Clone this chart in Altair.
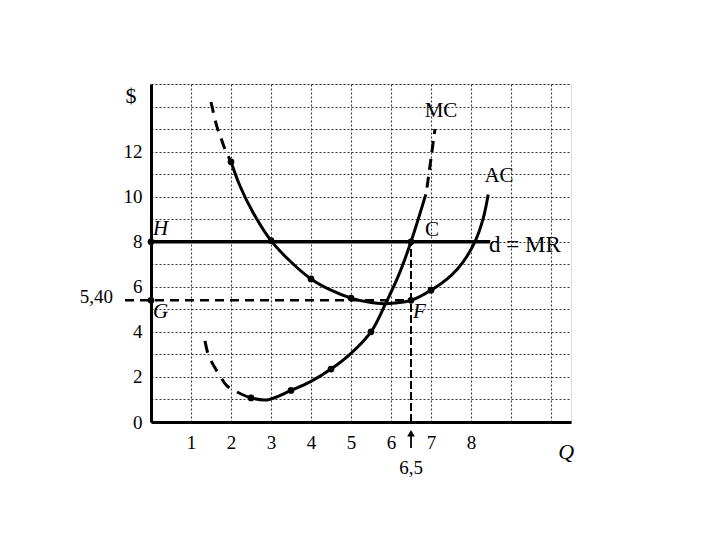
import altair as alt
import pandas as pd
import numpy as np

# ---- data ----
x_ticks = [1, 2, 3, 4, 5, 6, 7, 8]
y_ticks = [0, 2, 4, 6, 8, 10, 12]

ac_dash_q = [1.5, 1.65, 1.75, 1.85, 2.0]
ac_dash_v = [14.2, 13.1, 12.6, 12.1, 11.55]
ac_q = [2.0, 2.23, 2.55, 3.0, 3.5, 4.0, 4.5, 5.0, 5.5, 5.8, 6.1, 6.5, 7.0, 7.5, 7.8, 8.1, 8.3, 8.43]
ac_v = [11.55, 10.45, 9.3, 8.05, 7.1, 6.35, 5.85, 5.5, 5.3, 5.25, 5.28, 5.4, 5.85, 6.5, 7.1, 8.0, 9.0, 10.1]

mc_dash_low_q = [1.35, 1.43, 1.58, 1.73, 1.9, 2.1]
mc_dash_low_v = [3.6, 3.0, 2.46, 2.03, 1.6, 1.38]
mc_q = [2.15, 2.5, 2.9, 3.5, 4.0, 4.5, 5.0, 5.5, 5.85, 6.2, 6.5, 6.87]
mc_v = [1.33, 1.07, 0.98, 1.4, 1.8, 2.35, 3.05, 4.0, 5.2, 6.55, 8.0, 10.1]
mc_dash_top_q = [6.9, 7.0, 7.1]
mc_dash_top_v = [10.4, 11.7, 13.0]

ac_dot_q = [2.0, 3.0, 4.0, 5.0, 7.0]
ac_dot_v = [11.55, 8.05, 6.35, 5.5, 5.85]
mc_dot_q = [2.5, 3.5, 4.5, 5.5]
mc_dot_v = [1.07, 1.4, 2.35, 4.0]

price = 8.0          # d = MR
q_star = 6.5
ac_star = 5.40
mr_end_q = 8.48

# named points: H, G, C, F
pt_names = ["H", "G", "C", "F"]
pt_q = [0.0, 0.0, q_star, q_star]
pt_v = [price, ac_star, price, ac_star]

FONT = "Liberation Serif"

def df(q, v):
    return pd.DataFrame({"q": q, "v": v})

xs = alt.Scale(domain=[0, 10.5], nice=False, zero=False)
ys = alt.Scale(domain=[0, 15], nice=False, zero=False)

x_grid_vals = [float(a) for a in np.arange(0, 10.51, 0.5)]
y_grid_vals = [float(a) for a in np.arange(0, 15.01, 1.0)]

x_axis = alt.Axis(values=x_grid_vals, title=None, grid=True, ticks=False, format="d",
                  labelExpr="indexof(%s, datum.value) >= 0 ? datum.label : ''" % str(x_ticks),
                  labelFont=FONT, labelFontSize=19, labelColor="black", labelPadding=11,
                  domainColor="black", domainWidth=3, gridColor="#333", gridDash=[2, 2],
                  gridWidth=1.1, labelFlush=False, labelOverlap=False)
y_axis = alt.Axis(values=y_grid_vals, title=None, grid=True, ticks=False, format="d",
                  labelExpr="indexof(%s, datum.value) >= 0 ? datum.label : ''" % str(y_ticks),
                  labelFont=FONT, labelFontSize=19, labelColor="black", labelPadding=9,
                  domainColor="black", domainWidth=3, gridColor="#333", gridDash=[2, 2],
                  gridWidth=1.1, labelFlush=False, labelOverlap=False)

Xn = alt.X("q:Q", scale=xs, axis=x_axis)
Yn = alt.Y("v:Q", scale=ys, axis=y_axis)

def line(q, v, dash=None, w=3):
    kw = dict(color="black", strokeWidth=w, interpolate="catmull-rom")
    if dash:
        kw["strokeDash"] = dash
    return alt.Chart(df(q, v)).mark_line(**kw).encode(x=Xn, y=Yn)

ac_dash = line(ac_dash_q, ac_dash_v, [11, 8])
ac_line = line(ac_q, ac_v)
mc_low = line(mc_dash_low_q, mc_dash_low_v, [12, 9])
mc_line = line(mc_q, mc_v)
mc_top = line(mc_dash_top_q, mc_dash_top_v, [11, 7])

mr = alt.Chart(pd.DataFrame({"q": [0.0], "q2": [mr_end_q], "v": [price]})).mark_rule(
    color="black", strokeWidth=3.5).encode(x=Xn, x2="q2:Q", y=Yn)

g_line = alt.Chart(pd.DataFrame({"q": [-0.65], "q2": [q_star], "v": [ac_star]})).mark_rule(
    color="black", strokeWidth=2.5, strokeDash=[9, 6]).encode(x=Xn, x2="q2:Q", y=Yn)

v_line = alt.Chart(pd.DataFrame({"q": [q_star], "v": [0.0], "v2": [price]})).mark_rule(
    color="black", strokeWidth=2, strokeDash=[8, 3]).encode(x=Xn, y=Yn, y2="v2:Q")

arrow_shaft = alt.Chart(pd.DataFrame({"q": [q_star], "v": [-1.15], "v2": [-0.45]})).mark_rule(
    color="black", strokeWidth=1.8).encode(x=Xn, y=Yn, y2="v2:Q")
arrow_head = alt.Chart(pd.DataFrame({"q": [q_star], "v": [-0.5]})).mark_point(
    shape="triangle-up", filled=True, color="black", size=60, opacity=1).encode(x=Xn, y=Yn)

dots = alt.Chart(pd.concat([df(ac_dot_q, ac_dot_v), df(mc_dot_q, mc_dot_v), df(pt_q, pt_v)])).mark_circle(
    color="black", size=45, opacity=1).encode(x=Xn, y=Yn)

def txt(q, v, s, size=20, italic=False, align="center", baseline="middle"):
    kw = dict(font=FONT, fontSize=size, color="black", align=align, baseline=baseline)
    if italic:
        kw["fontStyle"] = "italic"
    return alt.Chart(pd.DataFrame({"q": [q], "v": [v], "t": [s]})).mark_text(**kw).encode(
        x=Xn, y=Yn, text="t:N")

labels = [
    txt(-0.5, 14.45, "$", 22),
    txt(7.25, 13.8, "MC", 21),
    txt(8.7, 10.9, "AC", 21),
    txt(8.45, 7.85, "d = MR", 23, align="left"),
    txt(0.05, 8.55, pt_names[0], 21, italic=True, align="left"),
    txt(0.05, 4.9, pt_names[1], 21, italic=True, align="left"),
    txt(6.85, 8.5, pt_names[2], 21, align="left"),
    txt(6.55, 4.9, pt_names[3], 21, italic=True, align="left"),
    txt(-0.95, 5.55, "5,40", 19, align="right"),
    txt(10.38, -1.35, "Q", 22, italic=True),
    txt(q_star, -2.05, "6,5", 19),
]

chart = alt.layer(g_line, v_line, mr, ac_dash, ac_line, mc_low, mc_line, mc_top,
                  dots, arrow_shaft, arrow_head, *labels).properties(
    width=420, height=338,
    autosize=alt.AutoSizeParams(type="none"),
    padding={"left": 143, "top": 76, "right": 130, "bottom": 100},
).configure_view(stroke="black", strokeWidth=2).configure(background="white")

chart.save("out.html", embed_options={"renderer": "svg", "actions": False})
